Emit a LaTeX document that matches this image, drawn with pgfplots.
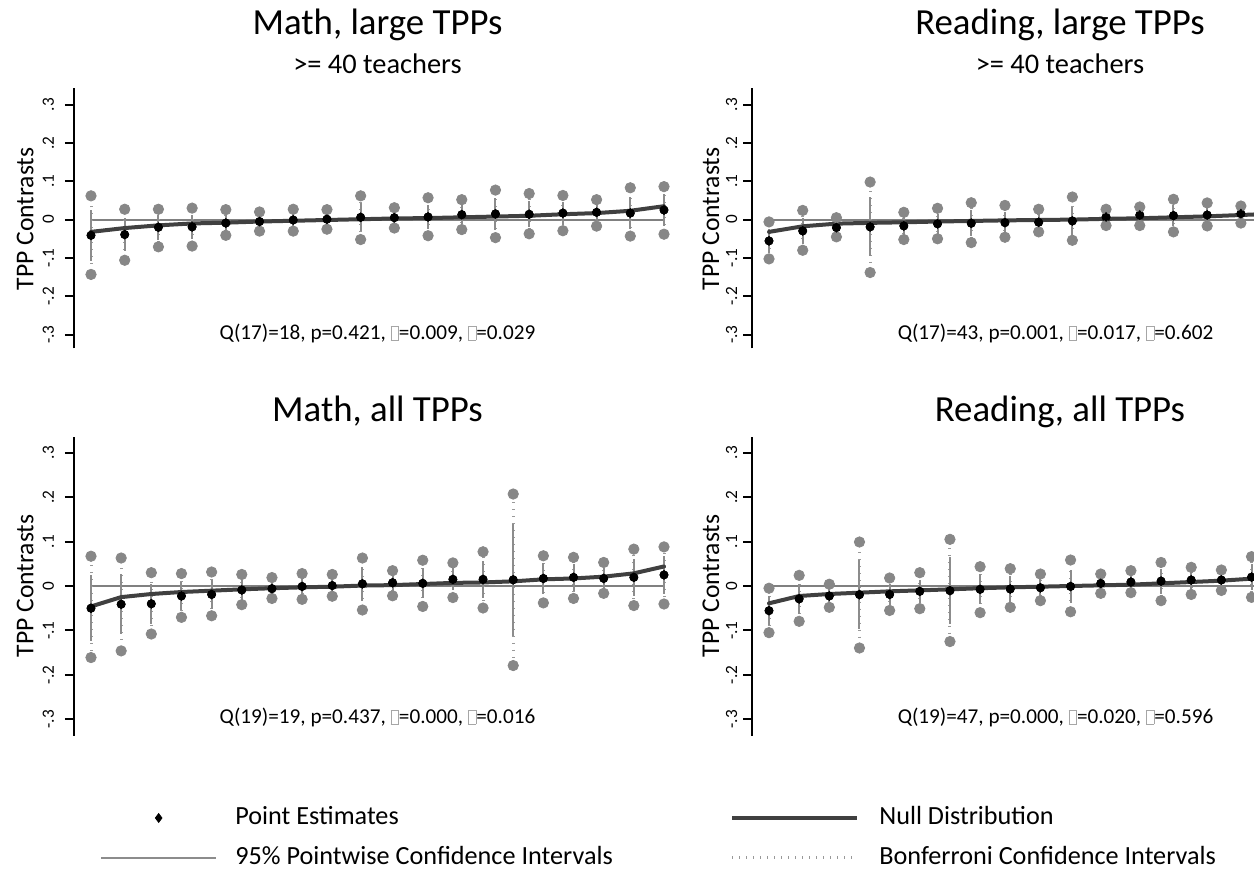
\documentclass[border=0pt]{standalone}
\usepackage{pgfplots}
\pgfplotsset{compat=1.18}
\usepackage{pgfplotstable}
\usepackage{fontspec}
\setmainfont{Carlito}

\definecolor{circ}{gray}{0.53}
\definecolor{cic}{gray}{0.55}
\definecolor{zeroc}{gray}{0.5}
\definecolor{bonf}{gray}{0.6}
\definecolor{nullc}{gray}{0.25}

\newcommand\nb{\textcolor{gray!70}{\setlength{\fboxsep}{0pt}\setlength{\fboxrule}{0.4pt}\fbox{\rule{0pt}{6.6pt}\hspace{3.4pt}}}}
\newcommand\titlefont{\fontsize{18.4}{22}\selectfont}
\newcommand\subfont{\fontsize{14.2}{17}\selectfont}
\newcommand\annfont{\fontsize{10.6}{13}\selectfont}
\newcommand\labfont{\fontsize{12.8}{15}\selectfont}
\newcommand\legfont{\fontsize{13.1}{15}\selectfont}

% x e n up lo h
\pgfplotstableread{
x e n up lo h
1 -0.041 -0.032 0.062 -0.143 0.067
2 -0.039 -0.022 0.027 -0.106 0.043
3 -0.020 -0.015 0.027 -0.071 0.032
4 -0.019 -0.010 0.030 -0.069 0.032
5 -0.009 -0.008 0.026 -0.041 0.022
6 -0.005 -0.005 0.020 -0.030 0.016
7 -0.001 -0.003 0.027 -0.030 0.019
8 0.001 -0.001 0.026 -0.025 0.017
9 0.006 0.001 0.062 -0.052 0.037
10 0.005 0.003 0.031 -0.022 0.017
11 0.007 0.004 0.057 -0.042 0.032
12 0.013 0.006 0.052 -0.026 0.025
13 0.015 0.008 0.077 -0.047 0.041
14 0.014 0.010 0.068 -0.037 0.034
15 0.017 0.014 0.063 -0.029 0.030
16 0.019 0.017 0.052 -0.017 0.023
17 0.017 0.023 0.083 -0.043 0.041
18 0.025 0.035 0.086 -0.038 0.041
}\TL

\pgfplotstableread{
x e n up lo h
1 -0.050 -0.046 0.067 -0.161 0.0745
2 -0.041 -0.025 0.063 -0.146 0.068
3 -0.040 -0.018 0.030 -0.108 0.045
4 -0.0225 -0.0135 0.028 -0.0705 0.032
5 -0.019 -0.0105 0.0315 -0.067 0.032
6 -0.009 -0.0075 0.026 -0.042 0.022
7 -0.006 -0.005 0.019 -0.028 0.015
8 -0.001 -0.003 0.028 -0.030 0.019
9 0.001 -0.0015 0.026 -0.023 0.016
10 0.005 0.001 0.063 -0.054 0.038
11 0.0075 0.002 0.0345 -0.022 0.018
12 0.006 0.0045 0.058 -0.046 0.034
13 0.015 0.007 0.052 -0.026 0.025
14 0.015 0.008 0.077 -0.0495 0.041
15 0.014 0.0105 0.207 -0.179 0.126
16 0.017 0.015 0.068 -0.038 0.035
17 0.0195 0.017 0.0645 -0.028 0.030
18 0.017 0.021 0.053 -0.0165 0.023
19 0.0195 0.0285 0.083 -0.044 0.0415
20 0.025 0.044 0.088 -0.0405 0.042
}\BL

\pgfplotstableread{
x e n up lo h
1 -0.0555 -0.032 -0.006 -0.1025 0.0315
2 -0.0295 -0.0175 0.024 -0.080 0.034
3 -0.021 -0.0105 0.005 -0.045 0.016
4 -0.019 -0.0085 0.098 -0.138 0.077
5 -0.0165 -0.007 0.019 -0.052 0.023
6 -0.011 -0.005 0.0295 -0.050 0.026
7 -0.0095 -0.0035 0.044 -0.060 0.034
8 -0.008 -0.002 0.037 -0.046 0.027
9 -0.007 -0.001 0.027 -0.032 0.019
10 -0.0035 0.000 0.059 -0.054 0.037
11 0.007 0.002 0.027 -0.0155 0.014
12 0.012 0.0035 0.033 -0.0155 0.016
13 0.0105 0.006 0.053 -0.032 0.028
14 0.012 0.0085 0.0435 -0.0165 0.020
15 0.0155 0.012 0.0355 -0.009 0.0145
}\TR

\pgfplotstableread{
x n
1 -0.032
2 -0.0175
3 -0.0105
4 -0.0085
5 -0.007
6 -0.005
7 -0.0035
8 -0.002
9 -0.001
10 0.000
11 0.002
12 0.0035
13 0.006
14 0.0085
15 0.012
16 0.0155
}\TRn

\pgfplotstableread{
x e n up lo h
1 -0.0555 -0.039 -0.005 -0.105 0.0325
2 -0.029 -0.0225 0.024 -0.0795 0.034
3 -0.0225 -0.018 0.004 -0.048 0.017
4 -0.0195 -0.015 0.099 -0.1395 0.078
5 -0.019 -0.012 0.018 -0.055 0.024
6 -0.012 -0.0098 0.030 -0.051 0.0265
7 -0.0105 -0.0075 0.105 -0.125 0.075
8 -0.0075 -0.005 0.0435 -0.060 0.034
9 -0.0068 -0.003 0.039 -0.048 0.0285
10 -0.004 -0.0015 0.027 -0.033 0.0195
11 -0.001 0.000 0.0585 -0.058 0.038
12 0.006 0.0015 0.027 -0.0165 0.014
13 0.009 0.003 0.0345 -0.015 0.016
14 0.011 0.006 0.053 -0.033 0.028
15 0.0135 0.009 0.042 -0.019 0.020
16 0.0135 0.012 0.036 -0.010 0.015
17 0.020 0.0165 0.066 -0.0255 0.030
}\BR

\pgfplotstableread{
x n
1 -0.039
2 -0.0225
3 -0.018
4 -0.015
5 -0.012
6 -0.0098
7 -0.0075
8 -0.005
9 -0.003
10 -0.0015
11 0.000
12 0.0015
13 0.003
14 0.006
15 0.009
16 0.012
17 0.0165
18 0.021
}\BRn

\pgfplotsset{
  panel/.style={
    scale only axis, width=303.5pt, anchor=south west,
    axis y line=left, axis x line=none,
    axis line style={black, line width=1pt, -},
    ytick={-0.3,-0.2,-0.1,0,0.1,0.2,0.3},
    yticklabels={-.3,-.2,-.1,0,.1,.2,.3},
    tick align=outside, major tick length=4.5pt,
    tick style={black, line width=1pt},
    yticklabel style={rotate=90, anchor=base, inner sep=0pt, font=\fontsize{8.6}{10}\selectfont},
  },
  toppanel/.style={panel, height=130pt, xmin=0.4955, xmax=18.5045, ymin=-0.3356, ymax=0.3425},
  botpanel/.style={panel, height=149.65pt, xmin=0.4363, xmax=20.5637, ymin=-0.3375, ymax=0.336},
}

\newcommand\drawpanel[3]{%
  \addplot[forget plot, zeroc, line width=1pt] coordinates {(1,0) (#2,0)};
  \addplot[forget plot, only marks, mark=none,
    error bars/.cd, y dir=both, y explicit, error mark=none,
    error bar style={bonf, line width=1.5pt, dash pattern=on 0.5pt off 3pt}]
    table[x=x, y=e, y error plus expr=\thisrow{up}-\thisrow{e}, y error minus expr=\thisrow{e}-\thisrow{lo}] {#1};
  \addplot[forget plot, only marks, mark=none,
    error bars/.cd, y dir=both, y explicit, error mark=none,
    error bar style={cic, line width=1pt}]
    table[x=x, y=e, y error=h] {#1};
  \addplot[forget plot, only marks, mark=*, mark size=2.6pt, circ, mark options={draw=none, fill=circ}] table[x=x, y=up] {#1};
  \addplot[forget plot, only marks, mark=*, mark size=2.6pt, circ, mark options={draw=none, fill=circ}] table[x=x, y=lo] {#1};
  \addplot[forget plot, nullc, line width=2pt, line cap=round, line join=round, mark=none] table[x=x, y=n] {#3};
  \addplot[forget plot, only marks, mark=diamond*, mark size=2.2pt, black, mark options={draw=none, fill=black}] table[x=x, y=e] {#1};
}

\begin{document}
\begin{tikzpicture}
\useasboundingbox (0,0) rectangle (627pt,441.5pt);
\clip (0,0) rectangle (627pt,441.5pt);

\begin{axis}[toppanel, at={(37pt,267.35pt)}, yticklabel shift=5.5pt]
  \drawpanel{\TL}{18}{\TL}
\end{axis}

\begin{axis}[toppanel, at={(376pt,267.35pt)}, yticklabel shift=3pt]
  \drawpanel{\TR}{18}{\TRn}
\end{axis}

\begin{axis}[botpanel, at={(37pt,73.5pt)}, yticklabel shift=5.5pt,
  legend columns=2, legend cell align=left,
  legend style={at={(0.0428,-0.2322)}, anchor=north west, draw=none, fill=none,
    inner sep=0pt, outer sep=0pt, column sep=0pt, row sep=7.5pt, font=\legfont,
    nodes={inner sep=0pt, text height=9.5pt, text depth=3pt}}]
  \drawpanel{\BL}{20}{\BL}
  \addlegendimage{legend image code/.code={\fill[black] (0,2.2pt)--(1.65pt,0)--(0,-2.2pt)--(-1.65pt,0)--cycle;}}
  \addlegendentry{\makebox[256.5pt][l]{\hspace{9pt}Point Estimates}}
  \addlegendimage{legend image code/.code={\draw[nullc, line width=2pt] (-31.25pt,0)--(31.25pt,0);}}
  \addlegendentry{\hspace{10pt}Null Distribution}
  \addlegendimage{legend image code/.code={\draw[cic, line width=1.2pt] (-28.75pt,0)--(28.75pt,0);}}
  \addlegendentry{\makebox[256.5pt][l]{\hspace{9pt}95\% Pointwise Confidence Intervals}}
  \addlegendimage{legend image code/.code={\draw[bonf, line width=1.5pt, dash pattern=on 0.5pt off 3pt] (-31.25pt,0)--(31.25pt,0);}}
  \addlegendentry{\hspace{10pt}Bonferroni Confidence Intervals}
\end{axis}

\begin{axis}[botpanel, at={(376pt,73.5pt)}, yticklabel shift=3pt]
  \drawpanel{\BR}{20}{\BRn}
\end{axis}

% titles
\node[anchor=base, font=\titlefont] at (188.75pt,424pt) {Math, large TPPs};
\node[anchor=base, font=\subfont] at (188.75pt,404.5pt) {>= 40 teachers};
\node[anchor=base, font=\titlefont] at (530pt,424pt) {Reading, large TPPs};
\node[anchor=base, font=\subfont] at (530pt,404.5pt) {>= 40 teachers};
\node[anchor=base, font=\titlefont] at (188.75pt,230.5pt) {Math, all TPPs};
\node[anchor=base, font=\titlefont] at (530pt,230.5pt) {Reading, all TPPs};

% axis titles
\node[rotate=90, anchor=base, font=\labfont] at (16.65pt,332pt) {TPP Contrasts};
\node[rotate=90, anchor=base, font=\labfont] at (359.5pt,332pt) {TPP Contrasts};
\node[rotate=90, anchor=base, font=\labfont] at (16.65pt,148.5pt) {TPP Contrasts};
\node[rotate=90, anchor=base, font=\labfont] at (359.5pt,148.5pt) {TPP Contrasts};

% statistics
\node[anchor=base, font=\annfont] at (188.75pt,271.5pt) {Q(17)=18, p=0.421, \nb=0.009, \nb=0.029};
\node[anchor=base, font=\annfont] at (527.75pt,271.5pt) {Q(17)=43, p=0.001, \nb=0.017, \nb=0.602};
\node[anchor=base, font=\annfont] at (188.75pt,79.5pt) {Q(19)=19, p=0.437, \nb=0.000, \nb=0.016};
\node[anchor=base, font=\annfont] at (527.75pt,79.5pt) {Q(19)=47, p=0.000, \nb=0.020, \nb=0.596};
\end{tikzpicture}
\end{document}
